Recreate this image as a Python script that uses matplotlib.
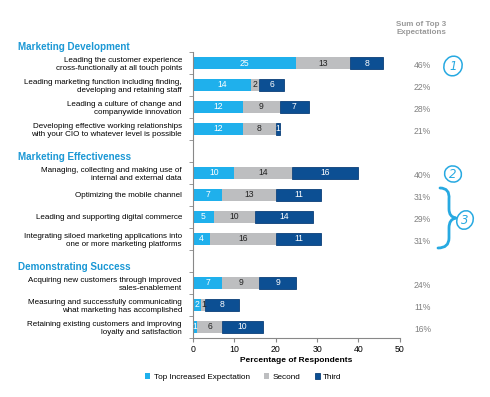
import matplotlib
matplotlib.use("Agg")
import matplotlib.pyplot as plt
from matplotlib.patches import Ellipse, PathPatch
from matplotlib.path import Path
import numpy as np

plt.rcParams['font.family'] = ['Liberation Sans', 'DejaVu Sans']

groups = ["Marketing Development", "Marketing Effectiveness", "Demonstrating Success"]
labels_dev = ["Leading the customer experience\ncross-functionally at all touch points",
              "Leading marketing function including finding,\ndeveloping and retaining staff",
              "Leading a culture of change and\ncompanywide innovation",
              "Developing effective working relationships\nwith your CIO to whatever level is possible"]
labels_eff = ["Managing, collecting and making use of\ninternal and external data",
              "Optimizing the mobile channel",
              "Leading and supporting digital commerce",
              "Integrating siloed marketing applications into\none or more marketing platforms"]
labels_suc = ["Acquiring new customers through improved\nsales-enablement",
              "Measuring and successfully communicating\nwhat marketing has accomplished",
              "Retaining existing customers and improving\nloyalty and satisfaction"]

top_dev = [25, 14, 12, 12]
second_dev = [13, 2, 9, 8]
third_dev = [8, 6, 7, 1]
top_eff = [10, 7, 5, 4]
second_eff = [14, 13, 10, 16]
third_eff = [16, 11, 14, 11]
top_suc = [7, 2, 1]
second_suc = [9, 1, 6]
third_suc = [9, 8, 10]
sum_top3 = ["46%", "22%", "28%", "21%", "40%", "31%", "29%", "31%", "24%", "11%", "16%"]

series_names = ["Top Increased Expectation", "Second", "Third"]
c_top, c_sec, c_thr = "#1FB0EC", "#BDBEC0", "#0C4F93"
c_head = "#1B98D5"

# rows, with an empty slot between groups for the header
labels = labels_dev + [""] + labels_eff + [""] + labels_suc
top = np.array(top_dev + [0] + top_eff + [0] + top_suc)
sec = np.array(second_dev + [0] + second_eff + [0] + second_suc)
thr = np.array(third_dev + [0] + third_eff + [0] + third_suc)
bar_rows = [i for i, l in enumerate(labels) if l]
y = np.arange(len(labels))

fig = plt.figure(figsize=(4.9, 3.97), dpi=100)
ax = fig.add_axes([0.394, 0.149, 0.422, 0.72])

h = 0.55
b1 = ax.barh(y[bar_rows], top[bar_rows], height=h, color=c_top)
b2 = ax.barh(y[bar_rows], sec[bar_rows], left=top[bar_rows], height=h, color=c_sec)
b3 = ax.barh(y[bar_rows], thr[bar_rows], left=(top + sec)[bar_rows], height=h,
             color=c_thr, edgecolor="#0A3F78", linewidth=0.6)

fs = 6.2
for i in bar_rows:
    ax.text(top[i] / 2, i, str(top[i]), ha="center", va="center", color="white", fontsize=fs)
    ax.text(top[i] + sec[i] / 2, i, str(sec[i]), ha="center", va="center", color="#222222", fontsize=fs)
    ax.text(top[i] + sec[i] + thr[i] / 2, i, str(thr[i]), ha="center", va="center", color="white", fontsize=fs)

ax.set_ylim(len(labels) - 0.5, -0.5)
ax.set_xlim(0, 50)
ax.set_yticks(y)
ax.set_yticklabels(labels, fontsize=5.8, linespacing=1.2)
ax.tick_params(axis="y", which="major", length=0, pad=8)
ax.set_yticks(np.arange(-0.5, len(labels), 1), minor=True)
ax.tick_params(axis="y", which="minor", length=3, color="#888888")
ax.set_xticks(np.arange(0, 51, 10))
ax.tick_params(axis="x", labelsize=6.3, length=3, color="#888888", pad=2)
for s in ["top", "right"]:
    ax.spines[s].set_visible(False)
for s in ["left", "bottom"]:
    ax.spines[s].set_color("#888888")
    ax.spines[s].set_linewidth(0.8)
ax.set_xlabel("Percentage of Respondents", fontsize=6.0, fontweight="bold", labelpad=2)

# group headers
head_pos = [-1.0, 4.0, 9.0]
for g, yy in zip(groups, head_pos):
    ax.text(-0.845, yy + 0.27, g, transform=ax.get_yaxis_transform(), ha="left", va="center",
            color=c_head, fontsize=7.1, fontweight="bold", clip_on=False)

# sum column
for i, s in zip(bar_rows, sum_top3):
    ax.text(1.11, i + 0.1, s, transform=ax.get_yaxis_transform(), ha="center", va="center",
            color="#808080", fontsize=6.2, clip_on=False)
fig.text(0.86, 0.929, "Sum of Top 3\nExpectations", ha="center", va="center",
         color="#999999", fontsize=5.8, fontweight="bold", linespacing=1.25)

fig.legend([b1, b2, b3], series_names, loc="center", bbox_to_anchor=(0.497, 0.05), ncol=3,
           frameon=False, fontsize=5.9, handlelength=0.6, handleheight=0.6,
           columnspacing=1.8, handletextpad=0.4)

# handwritten annotations, overlay in pixel coordinates
ov = fig.add_axes([0, 0, 1, 1])
ov.set_xlim(0, 490); ov.set_ylim(397, 0); ov.axis("off")
hand = "#27A9E1"
for (cx, cy, w, hh, txt) in [(453, 66, 18, 20, "1"), (453, 174, 17, 16, "2"), (465, 220, 16, 19, "3")]:
    ov.add_patch(Ellipse((cx, cy), w, hh, angle=25, fill=False, ec=hand, lw=1.1))
    ov.text(cx, cy, txt, ha="center", va="center", color=hand, fontsize=8.5,
            style="italic", family="DejaVu Sans")
brace = Path([(440, 188), (450, 188), (449, 199), (449, 209), (449, 217), (456, 218),
              (449, 219), (449, 228), (449, 238), (449, 248), (438, 248)],
             [Path.MOVETO, Path.CURVE3, Path.CURVE3, Path.LINETO, Path.CURVE3, Path.CURVE3,
              Path.CURVE3, Path.CURVE3, Path.LINETO, Path.CURVE3, Path.CURVE3])
ov.add_patch(PathPatch(brace, fill=False, ec=hand, lw=2.0, capstyle="round", joinstyle="round"))

fig.savefig("out.png", dpi=100)
